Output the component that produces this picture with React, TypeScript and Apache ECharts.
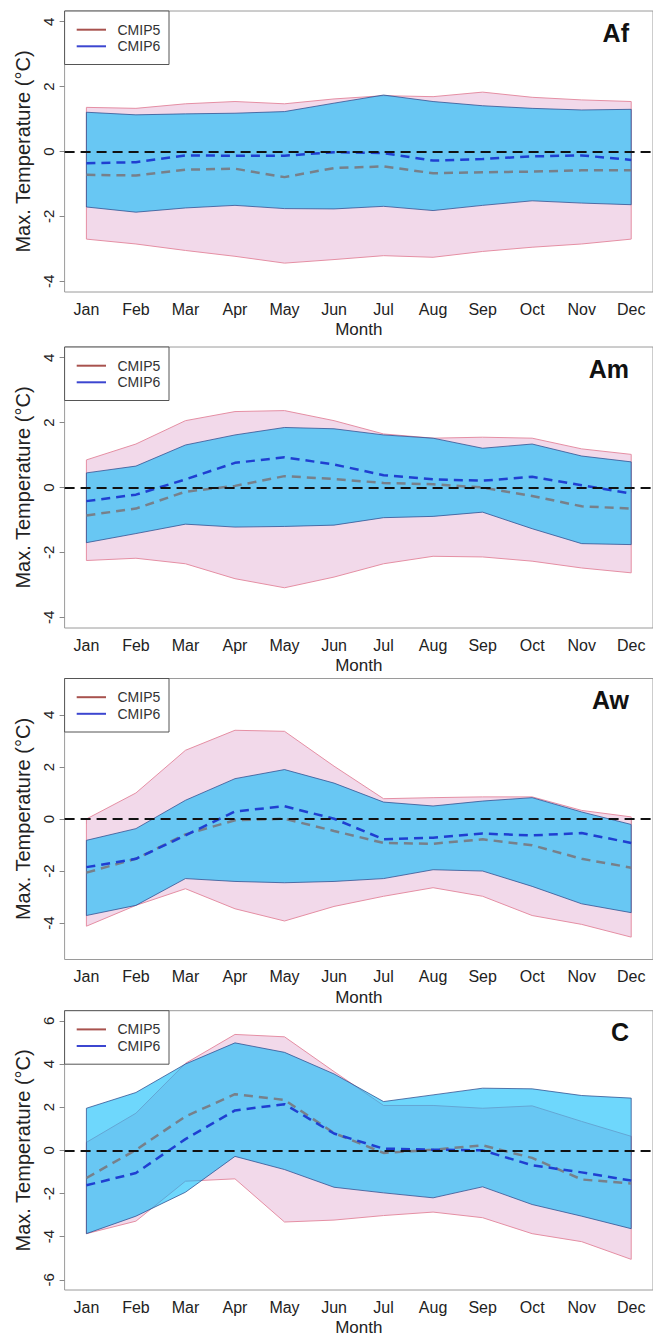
import React, { useEffect, useRef } from 'react';
import * as echarts from 'echarts';

// Month categories and their positions on the x scale
const MONTHS = ['Jan', 'Feb', 'Mar', 'Apr', 'May', 'Jun', 'Jul', 'Aug', 'Sep', 'Oct', 'Nov', 'Dec'];
const MONTH_NUM = [1, 2, 3, 4, 5, 6, 7, 8, 9, 10, 11, 12];

// Af climate zone: maximum temperature change ranges and ensemble means (°C)
const afCmip5Max = [1.36, 1.33, 1.47, 1.54, 1.47, 1.62, 1.72, 1.69, 1.83, 1.67, 1.59, 1.54];
const afCmip5Min = [-2.70, -2.85, -3.05, -3.23, -3.44, -3.33, -3.21, -3.26, -3.08, -2.95, -2.85, -2.70];
const afCmip6Max = [1.21, 1.13, 1.16, 1.18, 1.23, 1.49, 1.74, 1.54, 1.41, 1.33, 1.28, 1.30];
const afCmip6Min = [-1.71, -1.87, -1.74, -1.66, -1.76, -1.77, -1.69, -1.82, -1.66, -1.52, -1.59, -1.64];
const afCmip5Mean = [-0.72, -0.74, -0.56, -0.53, -0.79, -0.51, -0.46, -0.67, -0.64, -0.62, -0.58, -0.58];
const afCmip6Mean = [-0.36, -0.33, -0.12, -0.13, -0.13, -0.02, -0.05, -0.28, -0.23, -0.15, -0.12, -0.26];

// Am climate zone
const amCmip5Max = [0.85, 1.34, 2.06, 2.34, 2.37, 2.06, 1.65, 1.52, 1.55, 1.52, 1.19, 1.02];
const amCmip5Min = [-2.25, -2.18, -2.35, -2.81, -3.09, -2.76, -2.35, -2.12, -2.14, -2.27, -2.48, -2.63];
const amCmip6Max = [0.45, 0.66, 1.31, 1.62, 1.85, 1.81, 1.62, 1.52, 1.21, 1.34, 0.97, 0.79];
const amCmip6Min = [-1.70, -1.42, -1.13, -1.22, -1.20, -1.16, -0.93, -0.89, -0.76, -1.27, -1.73, -1.76];
const amCmip5Mean = [-0.86, -0.65, -0.13, 0.05, 0.35, 0.26, 0.14, 0.10, 0.00, -0.26, -0.58, -0.65];
const amCmip6Mean = [-0.42, -0.22, 0.25, 0.76, 0.93, 0.71, 0.38, 0.25, 0.21, 0.33, 0.07, -0.19];

// Aw climate zone
const awCmip5Max = [0.00, 1.00, 2.64, 3.41, 3.37, 2.03, 0.78, 0.82, 0.85, 0.85, 0.33, 0.08];
const awCmip5Min = [-4.12, -3.32, -2.68, -3.45, -3.92, -3.36, -2.97, -2.64, -2.97, -3.71, -4.05, -4.54];
const awCmip6Max = [-0.82, -0.37, 0.72, 1.55, 1.90, 1.38, 0.65, 0.50, 0.69, 0.82, 0.27, -0.21];
const awCmip6Min = [-3.71, -3.32, -2.29, -2.40, -2.45, -2.40, -2.29, -1.95, -2.00, -2.59, -3.26, -3.60];
const awCmip5Mean = [-2.06, -1.53, -0.59, -0.05, 0.01, -0.46, -0.92, -0.95, -0.78, -1.01, -1.53, -1.87];
const awCmip6Mean = [-1.85, -1.53, -0.63, 0.29, 0.49, 0.01, -0.78, -0.72, -0.56, -0.63, -0.54, -0.92];

// C climate zone
const cCmip5Max = [0.37, 1.72, 4.03, 5.37, 5.26, 3.65, 2.08, 2.08, 1.95, 2.06, 1.34, 0.65];
const cCmip5Min = [-3.86, -3.28, -1.43, -1.32, -3.32, -3.23, -3.02, -2.86, -3.12, -3.86, -4.23, -5.05];
const cCmip6Max = [1.95, 2.68, 4.00, 4.98, 4.54, 3.54, 2.26, 2.57, 2.88, 2.85, 2.54, 2.42];
const cCmip6Min = [-3.86, -3.05, -1.94, -0.28, -0.89, -1.71, -1.97, -2.20, -1.69, -2.51, -3.05, -3.63];
const cCmip5Mean = [-1.28, 0.02, 1.57, 2.60, 2.34, 0.80, -0.12, 0.03, 0.23, -0.35, -1.35, -1.54];
const cCmip6Mean = [-1.62, -1.05, 0.52, 1.85, 2.14, 0.78, 0.08, 0.03, 0.00, -0.69, -1.02, -1.40];

// Y tick labels per panel
const TICKS_4 = [-4, -2, 0, 2, 4];
const TICKS_6 = [-6, -4, -2, 0, 2, 4, 6];

const panels = [
  { label: 'Af', c5Max: afCmip5Max, c5Min: afCmip5Min, c6Max: afCmip6Max, c6Min: afCmip6Min, c5Mean: afCmip5Mean, c6Mean: afCmip6Mean, yLim: 4.33, ticks: TICKS_4 },
  { label: 'Am', c5Max: amCmip5Max, c5Min: amCmip5Min, c6Max: amCmip6Max, c6Min: amCmip6Min, c5Mean: amCmip5Mean, c6Mean: amCmip6Mean, yLim: 4.33, ticks: TICKS_4 },
  { label: 'Aw', c5Max: awCmip5Max, c5Min: awCmip5Min, c6Max: awCmip6Max, c6Min: awCmip6Min, c5Mean: awCmip5Mean, c6Mean: awCmip6Mean, yLim: 5.4, ticks: TICKS_4 },
  { label: 'C', c5Max: cCmip5Max, c5Min: cCmip5Min, c6Max: cCmip6Max, c6Min: cCmip6Min, c5Mean: cCmip5Mean, c6Mean: cCmip6Mean, yLim: 6.47, ticks: TICKS_6 },
];

// Layout
const WIDTH = 653;
const HEIGHT = 1337;
const PLOT_LEFT = 64.6;
const PLOT_WIDTH = 592;
const PANEL_TOPS = [11, 347, 678.5, 1010.7];
const PANEL_HEIGHT = 281;
const FONT = '"Liberation Sans", Arial, Helvetica, sans-serif';

const PINK_FILL = '#f2d9ea';
const PINK_EDGE = '#e58fa4';
const BLUE_FILL = 'rgba(0,185,250,0.57)';
const BLUE_EDGE = 'rgba(45,75,140,0.75)';
const C5_LEGEND = '#a8524e';
const C6_LEGEND = '#3c46d0';
const C5_MEAN = '#77808a';
const C6_MEAN = '#1f3fd1';

function bandSeries(i: number, upper: number[], lower: number[], fill: string, edge: string, z: number) {
  return {
    type: 'custom',
    xAxisIndex: i,
    yAxisIndex: i,
    data: [[MONTH_NUM[0], upper[0]]],
    z,
    silent: true,
    clip: false,
    renderItem: (_params: any, api: any) => {
      const top = MONTH_NUM.map((m, k) => api.coord([m, upper[k]]));
      const bottom = MONTH_NUM.map((m, k) => api.coord([m, lower[k]])).reverse();
      return {
        type: 'polygon',
        shape: { points: top.concat(bottom) },
        style: { fill, stroke: edge, lineWidth: 1 },
      };
    },
  };
}

function buildOption() {
  const grid: any[] = [];
  const xAxis: any[] = [];
  const yAxis: any[] = [];
  const series: any[] = [];
  const graphic: any[] = [];

  panels.forEach((p, i) => {
    const top = PANEL_TOPS[i];
    grid.push({
      left: PLOT_LEFT,
      top,
      width: PLOT_WIDTH,
      height: PANEL_HEIGHT,
      show: true,
      borderColor: '#9a9a9a',
      borderWidth: 1,
      backgroundColor: 'transparent',
    });
    xAxis.push({
      type: 'value',
      gridIndex: i,
      min: 0.56,
      max: 12.44,
      name: 'Month',
      nameLocation: 'middle',
      nameGap: 29,
      nameTextStyle: { fontSize: 17, color: '#222', fontFamily: FONT },
      axisLine: { show: false },
      axisTick: { show: true, customValues: MONTH_NUM, length: 5, lineStyle: { color: '#888' } },
      axisLabel: {
        customValues: MONTH_NUM,
        formatter: (v: number) => MONTHS[Math.round(v) - 1],
        fontSize: 16,
        color: '#222',
        margin: 9,
        fontFamily: FONT,
      },
      splitLine: { show: false },
    });
    yAxis.push({
      type: 'value',
      gridIndex: i,
      min: -p.yLim,
      max: p.yLim,
      name: 'Max. Temperature (°C)',
      nameLocation: 'middle',
      nameGap: 31,
      nameRotate: 90,
      nameTextStyle: { fontSize: 20, color: '#222', fontFamily: FONT },
      axisLine: { show: false },
      axisTick: { show: true, customValues: p.ticks, length: 5, lineStyle: { color: '#888' } },
      axisLabel: {
        customValues: p.ticks,
        rotate: 90,
        fontSize: 15,
        color: '#222',
        margin: 9,
        fontFamily: FONT,
      },
      splitLine: { show: false },
    });

    series.push(bandSeries(i, p.c5Max, p.c5Min, PINK_FILL, PINK_EDGE, 1));
    series.push(bandSeries(i, p.c6Max, p.c6Min, BLUE_FILL, BLUE_EDGE, 2));
    series.push({
      type: 'line',
      name: 'CMIP5 mean',
      xAxisIndex: i,
      yAxisIndex: i,
      data: MONTH_NUM.map((m, k) => [m, p.c5Mean[k]]),
      symbol: 'none',
      z: 3,
      silent: true,
      lineStyle: { color: C5_MEAN, width: 2.5, type: [9, 6] },
      markLine: {
        silent: true,
        symbol: ['none', 'none'],
        label: { show: false },
        lineStyle: { color: '#111', width: 2, type: [10, 6] },
        data: [{ yAxis: 0 }],
      },
    });
    series.push({
      type: 'line',
      name: 'CMIP6 mean',
      xAxisIndex: i,
      yAxisIndex: i,
      data: MONTH_NUM.map((m, k) => [m, p.c6Mean[k]]),
      symbol: 'none',
      z: 4,
      silent: true,
      lineStyle: { color: C6_MEAN, width: 2.5, type: [9, 6] },
    });

    // legend box
    graphic.push({
      type: 'rect',
      z: 100,
      shape: { x: PLOT_LEFT, y: top, width: 104.4, height: 53.5 },
      style: { fill: '#fff', stroke: '#555', lineWidth: 1 },
    });
    [
      { text: 'CMIP5', color: C5_LEGEND, dy: 18.7 },
      { text: 'CMIP6', color: C6_LEGEND, dy: 35.3 },
    ].forEach((row) => {
      graphic.push({
        type: 'line',
        z: 101,
        shape: { x1: 76.7, y1: top + row.dy, x2: 106, y2: top + row.dy },
        style: { stroke: row.color, lineWidth: 2 },
      });
      graphic.push({
        type: 'text',
        z: 101,
        x: 117.5,
        y: top + row.dy,
        style: { text: row.text, fontSize: 14, fontFamily: FONT, fill: '#333', verticalAlign: 'middle', align: 'left' },
      });
    });
    // panel title
    graphic.push({
      type: 'text',
      z: 101,
      x: 629,
      y: top + 21.5,
      style: { text: p.label, fontSize: 25, fontWeight: 'bold', fontFamily: FONT, fill: '#111', align: 'right', verticalAlign: 'middle' },
    });
  });

  return { animation: false, backgroundColor: '#fff', grid, xAxis, yAxis, series, graphic };
}

export default function App() {
  const ref = useRef<HTMLDivElement>(null);
  useEffect(() => {
    if (!ref.current) return;
    const chart = echarts.init(ref.current, undefined, { renderer: 'svg' });
    chart.setOption(buildOption() as any);
    return () => chart.dispose();
  }, []);
  return (
    <div
      ref={ref}
      style={{ position: 'absolute', left: 0, top: 0, width: WIDTH, height: HEIGHT, overflow: 'hidden', background: '#fff' }}
    />
  );
}
